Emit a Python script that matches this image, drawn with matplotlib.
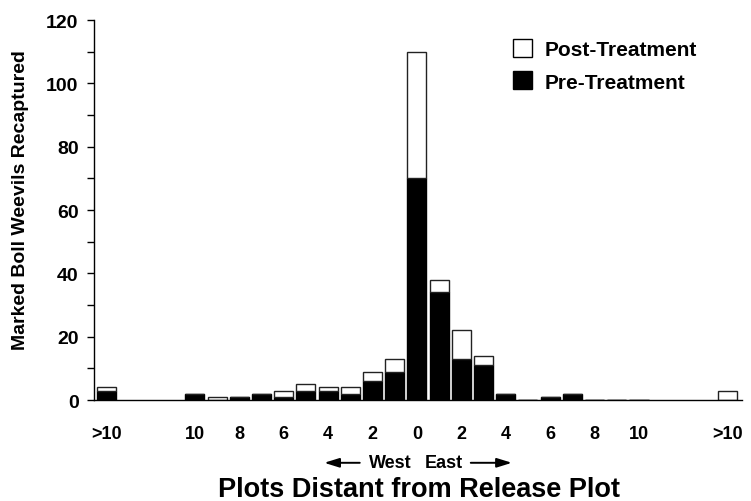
import matplotlib
matplotlib.use("Agg")
import matplotlib.pyplot as plt
from matplotlib.ticker import MultipleLocator
from matplotlib.patches import Patch

# plot distance from release plot (west negative, east positive, +-14 = ">10")
positions = [-14, -10, -9, -8, -7, -6, -5, -4, -3, -2, -1, 0,
             1, 2, 3, 4, 5, 6, 7, 8, 9, 10, 14]
pre = [3, 2, 0, 1, 2, 1, 3, 3, 2, 6, 9, 70,
       34, 13, 11, 2, 0, 1, 2, 0, 0, 0, 0]
total = [4, 2, 1, 1, 2, 3, 5, 4, 4, 9, 13, 110,
         38, 22, 14, 2, 0, 1, 2, 0, 0, 0, 3]
post = [t - p for t, p in zip(total, pre)]

tick_pos = [-14, -10, -8, -6, -4, -2, 0, 2, 4, 6, 8, 10, 14]
tick_labels = ['>10', '10', '8', '6', '4', '2', '0', '2', '4', '6', '8', '10', '>10']

plt.rcParams['font.family'] = ['Liberation Sans', 'DejaVu Sans']
plt.rcParams['font.weight'] = 'bold'

fig = plt.figure(figsize=(7.51, 5.02), dpi=100)
ax = fig.add_axes([0.125, 0.201, 0.863, 0.757])

w = 0.86
ax.bar(positions, pre, width=w, color='black', edgecolor='black', linewidth=1)
ax.bar(positions, post, width=w, bottom=pre, color='white', edgecolor='#222222', linewidth=1)

ax.set_xlim(-14.55, 14.64)
ax.set_ylim(0, 120)
ax.spines['top'].set_visible(False)
ax.spines['right'].set_visible(False)
ax.spines['left'].set_linewidth(1)
ax.spines['bottom'].set_linewidth(1)

ax.yaxis.set_major_locator(MultipleLocator(20))
ax.yaxis.set_minor_locator(MultipleLocator(10))
ax.tick_params(axis='y', which='both', direction='out', length=5, width=1, pad=6, labelsize=14)
ax.set_xticks(tick_pos)
ax.set_xticklabels(tick_labels)
ax.tick_params(axis='x', length=0, pad=18, labelsize=13)

ax.set_ylabel('Marked Boll Weevils Recaptured', fontsize=14, fontweight='bold')
ax.yaxis.set_label_coords(-0.1, 0.53)

# West / East direction marker
ax.text(-1.2, -0.165, 'West', transform=ax.get_xaxis_transform(), ha='center', va='center',
        fontsize=13, fontweight='bold')
ax.text(1.2, -0.165, 'East', transform=ax.get_xaxis_transform(), ha='center', va='center',
        fontsize=13, fontweight='bold')
arrow = dict(arrowstyle='-|>,head_length=0.9,head_width=0.28', color='black', lw=1.4)
ax.annotate('', xy=(-4.3, -0.165), xytext=(-2.45, -0.165), xycoords=ax.get_xaxis_transform(),
            arrowprops=arrow)
ax.annotate('', xy=(4.4, -0.165), xytext=(2.3, -0.165), xycoords=ax.get_xaxis_transform(),
            arrowprops=arrow)

ax.text(0.1, -0.235, 'Plots Distant from Release Plot', transform=ax.get_xaxis_transform(),
        ha='center', va='center', fontsize=19.5, fontweight='bold')

handles = [Patch(facecolor='white', edgecolor='black', linewidth=1, label='Post-Treatment'),
           Patch(facecolor='black', edgecolor='black', linewidth=1, label='Pre-Treatment')]
ax.legend(handles=handles, loc='upper left', bbox_to_anchor=(0.617, 1.0), frameon=False,
          handlelength=0.95, handleheight=0.95, handletextpad=0.6, labelspacing=0.6,
          prop={'weight': 'bold', 'size': 15})

fig.savefig('out.png', dpi=100)
